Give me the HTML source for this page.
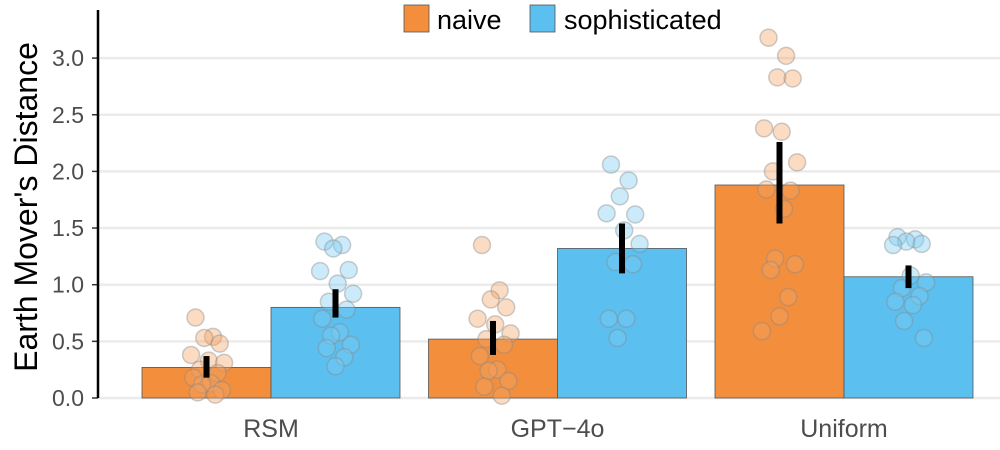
<!DOCTYPE html>
<html><head><meta charset="utf-8"><style>
body{margin:0;background:#fff;}
svg{display:block;font-family:"Liberation Sans",Arial,sans-serif;}
</style></head><body>
<svg id="chart" width="1000" height="450"></svg>
<script>
const categories=["RSM","GPT−4o","Uniform"];
const naiveMeans=[0.27,0.52,1.88];
const sophMeans=[0.80,1.32,1.07];
const naiveLo=[0.18,0.38,1.54];
const naiveHi=[0.37,0.68,2.26];
const sophLo=[0.71,1.10,0.97];
const sophHi=[0.96,1.54,1.17];
const naivePts=[
 [0.71,0.54,0.53,0.48,0.38,0.33,0.31,0.25,0.22,0.18,0.13,0.12,0.07,0.05,0.03],
 [1.35,0.95,0.87,0.80,0.70,0.65,0.57,0.52,0.47,0.37,0.25,0.24,0.15,0.10,0.02],
 [3.18,3.02,2.83,2.82,2.38,2.35,2.08,2.00,1.83,1.84,1.67,1.23,1.18,1.13,0.89,0.72,0.59]];
const sophPts=[
 [1.38,1.35,1.32,1.13,1.12,1.01,0.92,0.85,0.78,0.70,0.58,0.55,0.47,0.44,0.36,0.28],
 [2.06,1.92,1.78,1.62,1.63,1.48,1.36,1.20,1.18,0.70,0.70,0.53],
 [1.42,1.40,1.38,1.36,1.35,1.08,1.02,0.97,0.90,0.85,0.82,0.68,0.53]];
const yTicks=[0,0.5,1,1.5,2,2.5,3];
const yTickLabels=["0.0","0.5","1.0","1.5","2.0","2.5","3.0"];

const NS="http://www.w3.org/2000/svg";
const svg=document.getElementById('chart');
const y=v=>398-v*113.3;
const groupX=i=>142+i*286.5;
const BW=129;
function mk(t,a){const e=document.createElementNS(NS,t);for(const k in a)e.setAttribute(k,a[k]);svg.appendChild(e);return e;}
yTicks.forEach((t,i)=>{
 const g=mk('line',{x1:98,x2:1000,y1:y(t),y2:y(t),stroke:'#ebebeb','stroke-width':2.5});
 
 
 const tk=mk('line',{x1:92,x2:98,y1:y(t),y2:y(t),stroke:'#333','stroke-width':1.5});
 
 
 const l=mk('text',{x:84,y:y(t)+8,'text-anchor':'end','font-size':23,fill:'#4d4d4d'});
 l.textContent=yTickLabels[i];
 
 
});
function jit(k){const s=[-0.5,0.3,-0.1,0.6,-0.7,0.1,0.8,-0.3,0.5,-0.6,0.2,-0.2,0.7,-0.4,0.4,0,-0.8];return s[k%s.length]*22;}
categories.forEach((c,i)=>{
 const x0=groupX(i);
 [[naiveMeans,'#f28e3c',naiveLo,naiveHi,naivePts,'#f5a466','naive'],[sophMeans,'#5bbfef',sophLo,sophHi,sophPts,'#7dcdf2','sophisticated']].forEach((s,j)=>{
  const bx=x0+j*BW;
  const b=mk('rect',{x:bx,y:y(s[0][i]),width:BW,height:y(0)-y(s[0][i]),fill:s[1],stroke:'#555','stroke-width':0.8});
  
  
  const cx=bx+BW/2;
  s[4][i].forEach((v,k)=>{
   const p=mk('circle',{cx:cx+jit(k),cy:y(v),r:8.5,fill:s[5],'fill-opacity':0.4,stroke:'#888','stroke-opacity':0.4,'stroke-width':1.5});
   
   
  });
  const e=mk('line',{x1:cx,x2:cx,y1:y(s[2][i]),y2:y(s[3][i]),stroke:'#000','stroke-width':6});
  
  
 });
 const t=mk('text',{x:x0+BW,y:437,'text-anchor':'middle','font-size':25,fill:'#4d4d4d'});
 t.textContent=c;
 
 
});
const ax=mk('line',{x1:98,x2:98,y1:10,y2:398,stroke:'#000','stroke-width':2.5});


const yt=mk('text',{x:0,y:0,transform:'translate(37,207) rotate(-90)','text-anchor':'middle','font-size':32,fill:'#000'});
yt.textContent="Earth Mover's Distance";


[[404,'#f28e3c',437,'naive'],[530,'#5bbfef',564,'sophisticated']].forEach(L=>{
 const r=mk('rect',{x:L[0],y:5,width:25,height:27,fill:L[1],stroke:'#555','stroke-width':0.8});
 
 
 const t=mk('text',{x:L[2],y:29,'font-size':27,fill:'#000'});
 t.textContent=L[3];
 
 
});
</script>
</body></html>
